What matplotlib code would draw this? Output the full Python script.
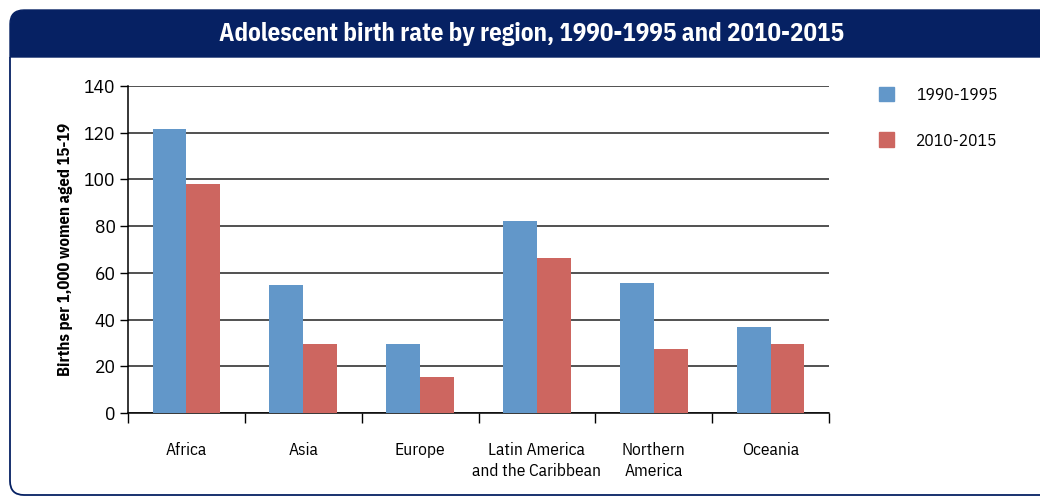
import matplotlib.pyplot as plt
from matplotlib.patches import Patch, PathPatch
from matplotlib.path import Path
from matplotlib.transforms import IdentityTransform

regions = ['Africa', 'Asia', 'Europe', 'Latin America\nand the Caribbean',
           'Northern\nAmerica', 'Oceania']
rate_1990 = [121.5, 55, 29.5, 82, 55.8, 37]
rate_2010 = [98, 29.5, 15.5, 66.5, 27.5, 29.5]
yticks = [0, 20, 40, 60, 80, 100, 120, 140]

blue = '#6297c9'
red = '#cd6660'
navy = '#062163'

plt.rcParams['font.family'] = ['IBM Plex Sans Condensed', 'DejaVu Sans']

W, H = 1040, 497
fig = plt.figure(figsize=(W / 100, H / 100), dpi=100)

def fx(px):
    return px / W

def fy(py):
    return 1 - py / H

# frame in pixel units, y measured from the top
pix = IdentityTransform()
r = 14
def pt(x, y):
    return (x, H - y)

title_path = Path([pt(10, 57), pt(10, 10 + r), pt(10, 10), pt(10 + r, 10),
                   pt(W + 5, 10), pt(W + 5, 57), pt(10, 57)],
                  [Path.MOVETO, Path.LINETO, Path.CURVE3, Path.CURVE3,
                   Path.LINETO, Path.LINETO, Path.CLOSEPOLY])
fig.patches.append(PathPatch(title_path, transform=pix, facecolor=navy,
                             edgecolor=navy, lw=1))
border_path = Path([pt(10, 57), pt(10, 495 - r), pt(10, 495), pt(10 + r, 495),
                    pt(W + 5, 495)],
                   [Path.MOVETO, Path.LINETO, Path.CURVE3, Path.CURVE3,
                    Path.LINETO])
fig.patches.append(PathPatch(border_path, transform=pix, facecolor='none',
                             edgecolor=navy, lw=1.3))
fig.text(fx(532), fy(34), 'Adolescent birth rate by region, 1990-1995 and 2010-2015',
         color='white', fontsize=18, fontweight='bold', ha='center', va='center')

ax = fig.add_axes([fx(128), fy(413), fx(829) - fx(128), fy(86) - fy(413)])
ax.patch.set_alpha(0)

x = [i + 0.5 for i in range(len(regions))]
w = 0.29
ax.bar([v - w / 2 for v in x], rate_1990, w, color=blue, zorder=3, label='1990-1995')
ax.bar([v + w / 2 for v in x], rate_2010, w, color=red, zorder=3, label='2010-2015')

ax.set_xlim(0, len(regions))
ax.set_ylim(0, 140)
ax.set_yticks(yticks)
ax.tick_params(axis='y', labelsize=14, length=6, width=1, direction='out', pad=3)
ax.set_xticks(range(len(regions) + 1))
ax.set_xticklabels([])
ax.set_xticks(x, minor=True)
ax.set_xticklabels(regions, minor=True, fontsize=12.5, linespacing=1.35)
ax.tick_params(axis='x', which='major', length=7, width=1, direction='out')
ax.tick_params(axis='x', which='minor', length=0, pad=21)
ax.yaxis.grid(True, color='#222222', lw=1.1, zorder=1)
ax.set_axisbelow(True)
for s in ['top', 'right']:
    ax.spines[s].set_visible(False)
ax.spines['left'].set_linewidth(1.1)
ax.spines['bottom'].set_linewidth(1.1)
ax.set_ylabel('Births per 1,000 women aged 15-19', fontsize=12,
              fontweight='bold', labelpad=8)

handles = [Patch(color=blue), Patch(color=red)]
fig.legend(handles, ['1990-1995', '2010-2015'], loc='upper left',
           bbox_to_anchor=(fx(863), fy(71)), frameon=False, fontsize=12.5,
           handlelength=0.9, handleheight=0.9, handletextpad=1.25,
           labelspacing=1.7)

fig.savefig('out.png', dpi=100)
